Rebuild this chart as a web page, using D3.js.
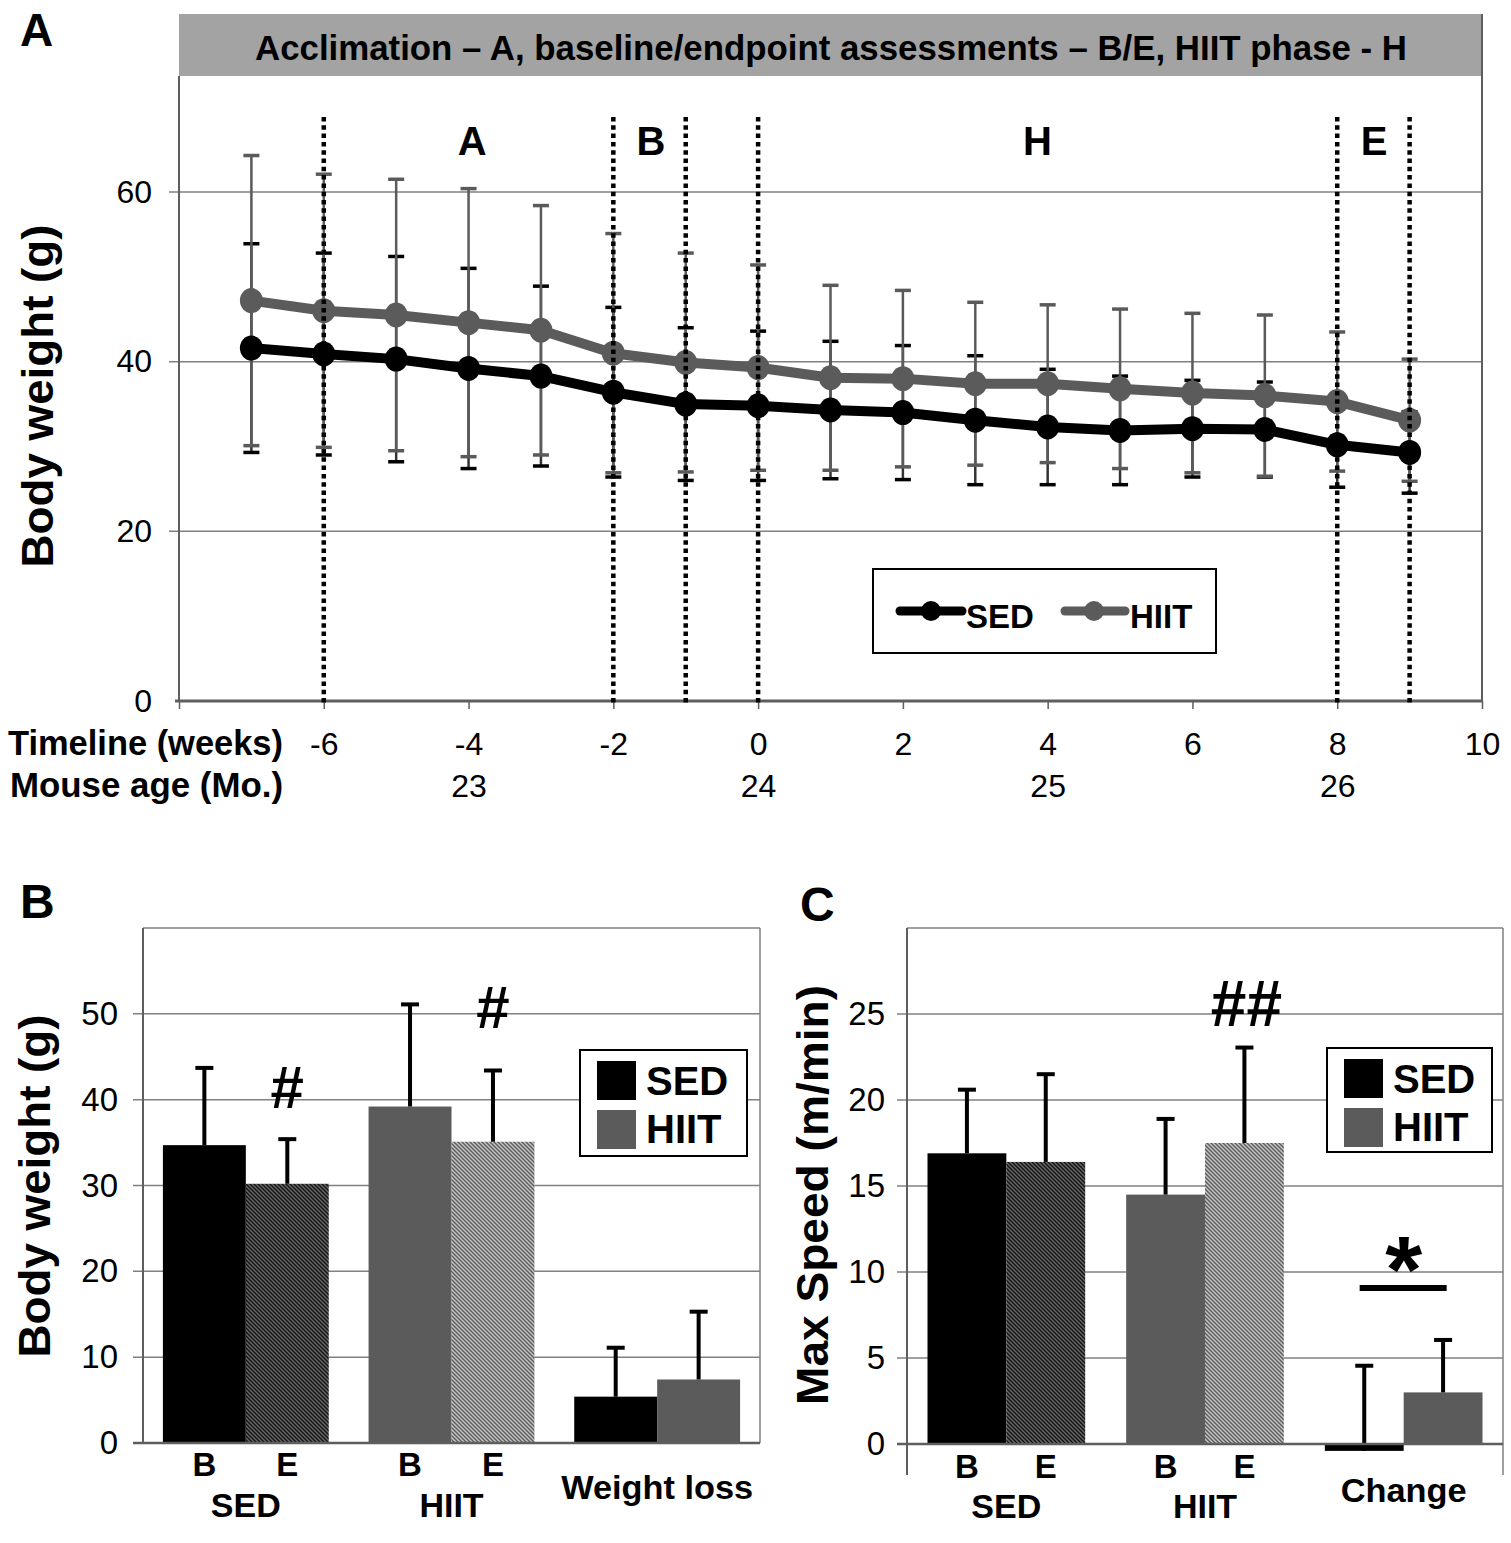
<!DOCTYPE html>
<html><head><meta charset="utf-8">
<script src="https://cdn.jsdelivr.net/npm/d3@7"></script>
<style>body{margin:0;background:#fff} svg{display:block} text{font-family:"Liberation Sans",Arial,Helvetica,sans-serif}</style>
</head><body><svg id="c" width="1511" height="1543"></svg>
<script>
// ---------------- DATA ----------------
// Panel A: body weight over time
const weeks = [-7,-6,-5,-4,-3,-2,-1,0,1,2,3,4,5,6,7,8,9];
const sedMean = [41.6,40.9,40.3,39.2,38.3,36.4,35.0,34.8,34.3,34.0,33.1,32.3,31.9,32.1,32.0,30.2,29.3];
const sedSD   = [12.3,11.9,12.1,11.8,10.6,10.0,9.0,8.8,8.1,7.9,7.6,6.8,6.4,5.7,5.6,5.0,4.8];
const hiitMean= [47.2,46.0,45.5,44.6,43.7,41.0,39.9,39.3,38.1,38.0,37.4,37.4,36.8,36.3,36.0,35.3,33.1];
const hiitSD  = [17.1,16.1,16.0,15.8,14.7,14.1,12.9,12.1,10.9,10.4,9.6,9.3,9.4,9.4,9.5,8.2,7.2];
const weekTicks = [-8,-6,-4,-2,0,2,4,6,8,10];
const ageTicks = [-4,0,4,8];
const ageLabels = ["23","24","25","26"];
const yTicksA = [0,20,40,60];
const phaseBounds = [-6,-2,-1,0,8,9];
const phaseLabels = ["A","B","H","E"];
const phaseCenters = [-3.95,-1.48,3.86,8.51];
const headerText = "Acclimation \u2013 A, baseline/endpoint assessments \u2013 B/E, HIIT phase - H";
const seriesNames = ["SED","HIIT"];

// Panel B: body weight B/E and weight loss
const bwCategories = ["SED","HIIT","Weight loss"];
const bwLeft     = [34.7, 39.2, 5.4];
const bwLeftErr  = [9.0, 11.9, 5.7];
const bwRight    = [30.2, 35.1, 7.4];
const bwRightErr = [5.2, 8.3, 7.9];
const yTicksB = [0,10,20,30,40,50];

// Panel C: max speed B/E and change
const spCategories = ["SED","HIIT","Change"];
const spLeft     = [16.9, 14.5, -0.4];
const spLeftErr  = [3.7, 4.4, 4.95];
const spRight    = [16.4, 17.5, 3.0];
const spRightErr = [5.1, 5.55, 3.05];
const yTicksC = [0,5,10,15,20,25];
const subLabels = ["B","E"];

// ---------------- DRAW ----------------
const svg = d3.select("#c");
const defs = svg.append("defs");
function hatch(id,bg,fg){
  const p=defs.append("pattern").attr("id",id).attr("patternUnits","userSpaceOnUse").attr("width",4).attr("height",4);
  p.append("rect").attr("width",4).attr("height",4).attr("fill",bg);
  p.append("path").attr("d","M-1,3 l2,2 M0,0 l4,4 M3,-1 l2,2").attr("stroke",fg).attr("stroke-width",1.4);
}
hatch("hDark","#111","#6a6a6a");
hatch("hLight","#c6c6c6","#5a5a5a");

const GRID="#808080", AXIS="#5e5e5e", SEDC="#000", HIITC="#5b5b5b", ERRG="#5a5a5a";

function txt(g,x,y,s,o={}){
  const t=g.append("text").attr("x",x).attr("y",y).text(s)
    .attr("font-size",o.fs||32).attr("font-weight",o.bold?"bold":"normal")
    .attr("text-anchor",o.anchor||"start").attr("fill",o.fill||"#000");
  if(o.len) t.attr("textLength",o.len).attr("lengthAdjust","spacingAndGlyphs");
  if(o.rot) t.attr("transform",`rotate(${o.rot},${x},${y})`);
  return t;
}
function styleAxis(g,fs){
  g.select(".domain").remove();
  g.selectAll(".tick line").attr("stroke",AXIS).attr("stroke-width",1.5);
  g.selectAll(".tick text").attr("font-size",fs).attr("fill","#000")
    .attr("font-family",'"Liberation Sans",Arial,sans-serif');
}
function line(g,x1,y1,x2,y2,c,w){
  return g.append("line").attr("x1",x1).attr("y1",y1).attr("x2",x2).attr("y2",y2).attr("stroke",c).attr("stroke-width",w);
}

// ===== Panel A =====
const xA = d3.scaleLinear().domain([-8,10]).range([179,1482]);
const yA = d3.scaleLinear().domain([0,60]).range([701,192]);
const gA = svg.append("g");
gA.append("rect").attr("x",xA(-8)).attr("y",14).attr("width",xA(10)-xA(-8)).attr("height",62).attr("fill","#a3a3a3");
txt(gA,831,60,headerText,{fs:35,bold:true,anchor:"middle",len:1152});
txt(gA,20,46,"A",{fs:46,bold:true});

gA.selectAll(".grid").data(yTicksA.filter(d=>d>0)).join("line")
  .attr("x1",xA(-8)-10).attr("x2",xA(10)).attr("y1",d=>yA(d)).attr("y2",d=>yA(d))
  .attr("stroke",GRID).attr("stroke-width",1.5);
line(gA,xA(-8),76,xA(-8),yA(0),AXIS,2);
line(gA,xA(10),14,xA(10),yA(0),AXIS,2);

const axL = gA.append("g").attr("transform",`translate(${xA(-8)},0)`)
  .call(d3.axisLeft(yA).tickValues(yTicksA).tickSize(10).tickPadding(17).tickFormat(d=>String(d)));
styleAxis(axL,32);
axL.selectAll(".tick line").attr("stroke","none");

const axB = gA.append("g").attr("transform",`translate(0,${yA(0)})`)
  .call(d3.axisBottom(xA).tickValues(weekTicks).tickSize(8).tickPadding(23).tickFormat(d=>d===-8?"":String(d)));
styleAxis(axB,32);
line(gA,xA(-8)-4,yA(0),xA(10),yA(0),AXIS,3);
const axAge = gA.append("g").attr("transform",`translate(0,${yA(0)})`)
  .call(d3.axisBottom(xA).tickValues(ageTicks).tickSize(0).tickPadding(73).tickFormat((d,i)=>ageLabels[i]));
styleAxis(axAge,32);
txt(gA,8,755,"Timeline (weeks)",{fs:35,bold:true,len:275});
txt(gA,10,797,"Mouse age (Mo.)",{fs:35,bold:true,len:273});
txt(gA,53,396,"Body weight (g)",{fs:44,bold:true,anchor:"middle",len:343,rot:-90});

// error bars
function errBars(mean,sd,color){
  const g=gA.append("g");
  weeks.forEach((w,i)=>{
    const x=xA(w), lo=yA(mean[i]-sd[i]), hi=yA(mean[i]+sd[i]);
    line(g,x,lo,x,hi,color===SEDC?"#333":ERRG,2.5);
    line(g,x-8,lo,x+8,lo,color,3.5);
    line(g,x-8,hi,x+8,hi,color,3.5);
  });
}
errBars(sedMean,sedSD,SEDC);
errBars(hiitMean,hiitSD,ERRG);

const lineGen = d3.line().x(d=>xA(d[0])).y(d=>yA(d[1]));
[[hiitMean,HIITC],[sedMean,SEDC]].forEach(([m,c])=>{
  const pts = weeks.map((w,i)=>[w,m[i]]);
  gA.append("path").datum(pts).attr("d",lineGen).attr("fill","none").attr("stroke",c).attr("stroke-width",10).attr("stroke-linejoin","round");
  gA.selectAll(null).data(pts).join("ellipse").attr("cx",d=>xA(d[0])).attr("cy",d=>yA(d[1])).attr("rx",11.5).attr("ry",12.5).attr("fill",c);
});

// phase boundaries
gA.selectAll(".ph").data(phaseBounds).join("line")
  .attr("x1",d=>xA(d)).attr("x2",d=>xA(d)).attr("y1",117).attr("y2",yA(0)+5)
  .attr("stroke","#000").attr("stroke-width",4.5).attr("stroke-dasharray","4.5,3.8");
phaseLabels.forEach((l,i)=>txt(gA,xA(phaseCenters[i]),155,l,{fs:40,bold:true,anchor:"middle"}));

// legend A
gA.append("rect").attr("x",873).attr("y",569).attr("width",343).attr("height",84).attr("fill","#fff").attr("stroke","#000").attr("stroke-width",2);
[[900,962,931,966,SEDC],[1065,1125,1094,1130,HIITC]].forEach((p,i)=>{
  gA.append("line").attr("x1",p[0]).attr("x2",p[1]).attr("y1",611).attr("y2",611).attr("stroke",p[4]).attr("stroke-width",9).attr("stroke-linecap","round");
  gA.append("circle").attr("cx",p[2]).attr("cy",611).attr("r",10).attr("fill",p[4]);
  txt(gA,p[3],628,seriesNames[i],{fs:33,bold:true});
});

// ===== Bar panels =====
function barPanel(o){
  const g=svg.append("g");
  const x=d3.scaleBand().domain(o.cats).range([o.x0,o.x1]);
  const sub=d3.scaleBand().domain([0,1]).range([0,x.bandwidth()]).paddingOuter(o.pad).paddingInner(0);
  const y=d3.scaleLinear().domain(o.dom).range([o.yBot,o.yTop]);
  g.selectAll(".grid").data(o.ticks.filter(d=>d>0)).join("line")
    .attr("x1",o.x0-10).attr("x2",o.x1).attr("y1",d=>y(d)).attr("y2",d=>y(d)).attr("stroke",GRID).attr("stroke-width",1.5);
  line(g,o.x0,o.yTop,o.x1,o.yTop,GRID,1.5);
  line(g,o.x0,o.yTop,o.x0,o.axisEnd,AXIS,2);
  line(g,o.x1,o.yTop,o.x1,o.axisEnd,GRID,1.5);
  const ax=g.append("g").attr("transform",`translate(${o.x0},0)`)
    .call(d3.axisLeft(y).tickValues(o.ticks).tickSize(10).tickPadding(o.tpad).tickFormat(d=>String(d)));
  styleAxis(ax,33);
  ax.selectAll(".tick line").attr("stroke","none");
  o.cats.forEach((c,i)=>{
    [[o.left[i],o.leftErr[i]],[o.right[i],o.rightErr[i]]].forEach(([v,e],j)=>{
      const bx=x(c)+sub(j), bw=sub.bandwidth();
      g.append("rect").attr("x",bx).attr("y",Math.min(y(v),y(0))).attr("width",bw)
        .attr("height",Math.abs(y(v)-y(0))).attr("fill",o.fills[i][j]);
      const cx=bx+bw/2;
      line(g,cx,y(v),cx,y(v+e),"#000",4);
      line(g,cx-9,y(v+e),cx+9,y(v+e),"#000",4);
    });
  });
  line(g,o.x0-10,y(0),o.x1,y(0),AXIS,2.5);
  o.cats.forEach((c,i)=>{
    const cx=x(c)+x.bandwidth()/2;
    if(i<2){
      subLabels.forEach((s,j)=>txt(g,x(c)+sub(j)+sub.bandwidth()/2,o.subY,s,{fs:33,bold:true,anchor:"middle"}));
      txt(g,cx,o.grpY,c,{fs:34,bold:true,anchor:"middle"});
    } else {
      txt(g,cx,o.lastY,c,{fs:34,bold:true,anchor:"middle",len:o.lastLen});
    }
  });
  const L=o.leg;
  g.append("rect").attr("x",L[0]).attr("y",L[1]).attr("width",L[2]).attr("height",L[3]).attr("fill","#fff").attr("stroke","#000").attr("stroke-width",2);
  [SEDC,HIITC].forEach((c,k)=>{
    g.append("rect").attr("x",L[0]+17).attr("y",L[1]+11+k*49).attr("width",39).attr("height",39).attr("fill",c);
    txt(g,L[0]+66,L[1]+45+k*48,seriesNames[k],{fs:40,bold:true});
  });
  txt(g,o.titleX,o.titleY,o.title,{fs:44,bold:true,anchor:"middle",len:o.titleLen,rot:-90});
  txt(g,o.labX,o.labY,o.lab,{fs:48,bold:true});
  return {g,x,sub,y};
}

const B = barPanel({cats:bwCategories,left:bwLeft,leftErr:bwLeftErr,right:bwRight,rightErr:bwRightErr,
  x0:143,x1:760,yTop:928,yBot:1443,axisEnd:1443,dom:[0,60],ticks:yTicksB,tpad:15,pad:0.24,
  fills:[["#000","url(#hDark)"],[HIITC,"url(#hLight)"],["#000",HIITC]],
  subY:1476,grpY:1517,lastY:1499,lastLen:192,leg:[580,1050,167,106],
  title:"Body weight (g)",titleX:50,titleY:1186,titleLen:343,lab:"B",labX:20,labY:918});
const C = barPanel({cats:spCategories,left:spLeft,leftErr:spLeftErr,right:spRight,rightErr:spRightErr,
  x0:907,x1:1503,yTop:928,yBot:1444,axisEnd:1475,dom:[0,30],ticks:yTicksC,tpad:12,pad:0.26,
  fills:[["#000","url(#hDark)"],[HIITC,"url(#hLight)"],["#000",HIITC]],
  subY:1478,grpY:1518,lastY:1502,lastLen:126,leg:[1327,1048,165,104],
  title:"Max Speed (m/min)",titleX:828,titleY:1195,titleLen:420,lab:"C",labX:800,labY:921});

// significance marks
function barCenter(P,cat,j){return P.x(cat)+P.sub(j)+P.sub.bandwidth()/2;}
txt(B.g,barCenter(B,"SED",1),1108,"#",{fs:60,bold:true,anchor:"middle"});
txt(B.g,barCenter(B,"HIIT",1),1028,"#",{fs:60,bold:true,anchor:"middle"});
txt(C.g,barCenter(C,"HIIT",1)+2,1026,"##",{fs:64,bold:true,anchor:"middle"});
const chc = C.x("Change")+C.x.bandwidth()/2;
line(C.g,chc-44,1288,chc+43,1288,"#000",6);
txt(C.g,chc,1302,"*",{fs:95,bold:true,anchor:"middle"});
</script></body></html>
